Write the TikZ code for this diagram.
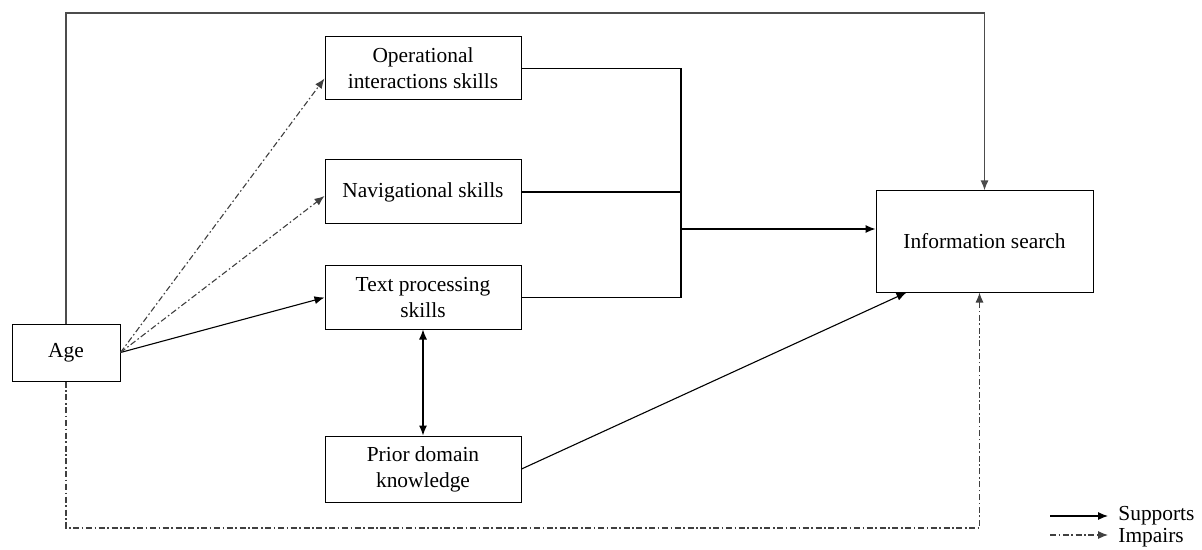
\documentclass[tikz,border=0pt]{standalone}
\usepackage{fontspec}
\setmainfont{Liberation Serif}
\usetikzlibrary{positioning,calc,arrows.meta}

\begin{document}
\begin{tikzpicture}[x=0.5pt,y=-0.5pt,node distance=29.5pt,
	box/.style={draw,line width=0.5pt,align=center,minimum width=98pt,minimum height=31.5pt,inner sep=2pt,font=\fontsize{10.7}{13}\selectfont},
	supports/.style={-{Latex[length=5pt,width=4pt]},line width=0.55pt},
	impairs/.style={supports,dash pattern=on 3pt off 1.3pt on 0.8pt off 1.3pt,black!75},
	legend/.style={anchor=west,inner sep=0pt,font=\fontsize{10.7}{13}\selectfont}]
		\useasboundingbox (0,0) rectangle (1202,550);
		\node[box,minimum width=54pt,minimum height=28.5pt] (age) at (66,352.5) {Age};
		\node[box] (op) at (423,68.5) {Operational\\interactions skills};
		\node[box,minimum height=32pt] (nav) [below=29.5pt of op] {Navigational skills};
		\node[box] (tp) [below=20.5pt of nav] {Text processing\\skills};
		\node[box,minimum height=33pt] (pdk) [below=53pt of tp] {Prior domain\\knowledge};
		\node[box,minimum width=108.5pt,minimum height=50.5pt] (info) at (984.5,241.5) {Information search};

		% skills join into one arrow
		\coordinate (jn) at (681,229);
		\draw[line width=0.55pt] (op.east) -- (op.east -| jn) -- (tp.east -| jn) -- (tp.east);
		\draw[line width=0.55pt] (nav.east) -- (nav.east -| jn);
		\draw[supports] (jn) -- (jn -| info.west);

		% age paths
		\coordinate (topline) at (0,13);
		\coordinate (bottomline) at (0,528);
		\draw[supports,black!70,line width=0.8pt] (age.north) -- (age.north |- topline) -| (info.north);
		\draw[supports] (age.east) -- (tp.west);
		\draw[impairs] (age.east) -- ([yshift=-5pt]op.west);
		\draw[impairs] (age.east) -- ([yshift=-2pt]nav.west);
		\draw[impairs] (age.south) -- (age.south |- bottomline) -| ([xshift=-2.5pt]info.south);

		\draw[{Latex[length=5pt,width=4pt]}-{Latex[length=5pt,width=4pt]},line width=0.55pt] (tp) -- (pdk);
		\draw[supports] (pdk.east) -- ([xshift=15.5pt]info.south west);

		% legend
		\node[legend] (sup) at (1118,516) {Supports};
		\node[legend] (imp) at (1118,538) {Impairs};
		\coordinate (ls) at (1050,516);
		\coordinate (li) at (1050,535);
		\draw[supports] (ls) -- ([xshift=-5pt]ls -| sup.west);
		\draw[impairs] (li) -- ([xshift=-5pt]li -| imp.west);
\end{tikzpicture}
\end{document}
